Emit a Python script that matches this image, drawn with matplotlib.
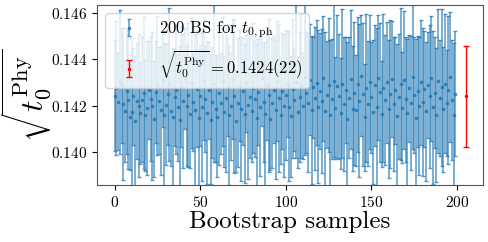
import numpy as np
import matplotlib
matplotlib.use("Agg")
import matplotlib.pyplot as plt

plt.rcParams['font.family'] = 'serif'
plt.rcParams['font.serif'] = ['cmr10']
plt.rcParams['mathtext.fontset'] = 'cm'
plt.rcParams['axes.formatter.use_mathtext'] = True

# bootstrap values of sqrt(t0) (approximate)
bs_vals = [
    0.14243, 0.14275, 0.14218, 0.14302, 0.14288, 0.14208, 0.14176, 0.14262, 0.14225, 0.14151,
    0.14172, 0.14240, 0.14135, 0.14219, 0.14201, 0.14168, 0.14226, 0.14255, 0.14158, 0.14190,
    0.14268, 0.14230, 0.14198, 0.14142, 0.14258, 0.14289, 0.14222, 0.14180, 0.14310, 0.14160,
    0.14205, 0.14250, 0.14292, 0.14178, 0.14150, 0.14236, 0.14270, 0.14193, 0.14138, 0.14283,
    0.14221, 0.14318, 0.14199, 0.14247, 0.14163, 0.14298, 0.14215, 0.14182, 0.14272, 0.14146,
    0.14244, 0.14196, 0.14312, 0.14228, 0.14170, 0.14266, 0.14140, 0.14216, 0.14295, 0.14188,
    0.14152, 0.14253, 0.14210, 0.14305, 0.14174, 0.14232, 0.14281, 0.14158, 0.14197, 0.14315,
    0.14241, 0.14133, 0.14214, 0.14287, 0.14185, 0.14262, 0.14166, 0.14297, 0.14203, 0.14236,
    0.14178, 0.14276, 0.14229, 0.14148, 0.14259, 0.14195, 0.14322, 0.14217, 0.14165, 0.14290,
    0.14245, 0.14141, 0.14212, 0.14270, 0.14182, 0.14306, 0.14234, 0.14160, 0.14264, 0.14200,
    0.14246, 0.14293, 0.14194, 0.14154, 0.14274, 0.14226, 0.14304, 0.14171, 0.14238, 0.14285,
    0.14198, 0.14326, 0.14257, 0.14214, 0.14312, 0.14183, 0.14279, 0.14232, 0.14300, 0.14196,
    0.14263, 0.14220, 0.14318, 0.14177, 0.14248, 0.14291, 0.14162, 0.14230, 0.14308, 0.14192,
    0.14284, 0.14242, 0.14168, 0.14296, 0.14206, 0.14267, 0.14144, 0.14235, 0.14314, 0.14188,
    0.14254, 0.14180, 0.14292, 0.14222, 0.14330, 0.14249, 0.14150, 0.14278, 0.14209, 0.14303,
    0.14236, 0.14173, 0.14288, 0.14195, 0.14320, 0.14258, 0.14164, 0.14276, 0.14224, 0.14301,
    0.14186, 0.14250, 0.14316, 0.14207, 0.14266, 0.14155, 0.14238, 0.14294, 0.14192, 0.14311,
    0.14228, 0.14167, 0.14275, 0.14212, 0.14325, 0.14247, 0.14149, 0.14263, 0.14199, 0.14302,
    0.14218, 0.14273, 0.14176, 0.14290, 0.14241, 0.14318, 0.14193, 0.14256, 0.14159, 0.14307,
    0.14233, 0.14280, 0.14184, 0.14296, 0.14211, 0.14268, 0.14323, 0.14226, 0.14162, 0.14252,
]
bs_errs = [
    0.0024, 0.0029, 0.0021, 0.0031, 0.0025, 0.0033, 0.0022, 0.0027, 0.0030, 0.0023,
    0.0032, 0.0021, 0.0028, 0.0025, 0.0031, 0.0022, 0.0027, 0.0033, 0.0024, 0.0029,
    0.0021, 0.0027, 0.0032, 0.0025, 0.0022, 0.0030, 0.0023, 0.0028, 0.0020, 0.0031,
    0.0026, 0.0022, 0.0033, 0.0024, 0.0030, 0.0021, 0.0028, 0.0023, 0.0032, 0.0026,
    0.0029, 0.0022, 0.0026, 0.0031, 0.0023, 0.0028, 0.0021, 0.0033, 0.0025, 0.0030,
    0.0022, 0.0032, 0.0026, 0.0023, 0.0031, 0.0021, 0.0028, 0.0024, 0.0034, 0.0023,
    0.0026, 0.0031, 0.0022, 0.0028, 0.0024, 0.0032, 0.0021, 0.0030, 0.0023, 0.0026,
    0.0033, 0.0022, 0.0028, 0.0024, 0.0031, 0.0023, 0.0030, 0.0021, 0.0032, 0.0026,
    0.0022, 0.0028, 0.0025, 0.0032, 0.0023, 0.0030, 0.0021, 0.0026, 0.0031, 0.0024,
    0.0033, 0.0022, 0.0028, 0.0023, 0.0030, 0.0026, 0.0032, 0.0021, 0.0025, 0.0031,
    0.0028, 0.0023, 0.0032, 0.0026, 0.0030, 0.0022, 0.0033, 0.0024, 0.0028, 0.0031,
    0.0023, 0.0034, 0.0026, 0.0030, 0.0024, 0.0032, 0.0022, 0.0031, 0.0027, 0.0033,
    0.0025, 0.0031, 0.0027, 0.0034, 0.0023, 0.0029, 0.0032, 0.0026, 0.0033, 0.0022,
    0.0031, 0.0027, 0.0024, 0.0032, 0.0029, 0.0023, 0.0033, 0.0026, 0.0030, 0.0027,
    0.0031, 0.0024, 0.0029, 0.0033, 0.0026, 0.0031, 0.0023, 0.0032, 0.0027, 0.0029,
    0.0024, 0.0031, 0.0026, 0.0034, 0.0027, 0.0030, 0.0023, 0.0032, 0.0028, 0.0026,
    0.0030, 0.0032, 0.0025, 0.0029, 0.0023, 0.0031, 0.0027, 0.0033, 0.0024, 0.0030,
    0.0027, 0.0032, 0.0023, 0.0029, 0.0031, 0.0025, 0.0034, 0.0024, 0.0030, 0.0027,
    0.0032, 0.0025, 0.0030, 0.0023, 0.0031, 0.0027, 0.0033, 0.0024, 0.0029, 0.0031,
    0.0025, 0.0034, 0.0027, 0.0030, 0.0023, 0.0032, 0.0028, 0.0026, 0.0031, 0.0027,
]
phys_x = 205
phys_val = 0.1424
phys_err = 0.0022

fig = plt.figure(figsize=(4.88, 2.42), dpi=100)
ax = fig.add_axes([0.199, 0.236, 0.791, 0.743])

x = np.arange(len(bs_vals))
ax.errorbar(x, bs_vals, yerr=bs_errs, fmt='o', ms=1.6, color='C0',
            elinewidth=1.1, capsize=1.2, alpha=0.75,
            label=r'200 BS for $t_{0,\mathrm{ph}}$')
ax.errorbar([phys_x], [phys_val], yerr=[phys_err], fmt='o', ms=1.5,
            color='red', elinewidth=1, capsize=2,
            label=r'$\sqrt{t_0^{\mathrm{Phy}}}=0.1424(22)$')

ax.set_ylim(0.13858, 0.14635)
ax.set_xticks([0, 50, 100, 150, 200])
ax.set_yticks([0.140, 0.142, 0.144, 0.146])
ax.tick_params(labelsize=11)
ax.set_xlabel('Bootstrap samples', fontsize=18, labelpad=1)
ax.set_ylabel(r'$\sqrt{t_0^{\mathrm{Phy}}}$', fontsize=23)
ax.yaxis.set_label_coords(-0.112, 0.5)
for s in ax.spines.values():
    s.set_color('#555555')
ax.legend(loc='upper left', fontsize=12)

fig.savefig('out.png', dpi=100)
